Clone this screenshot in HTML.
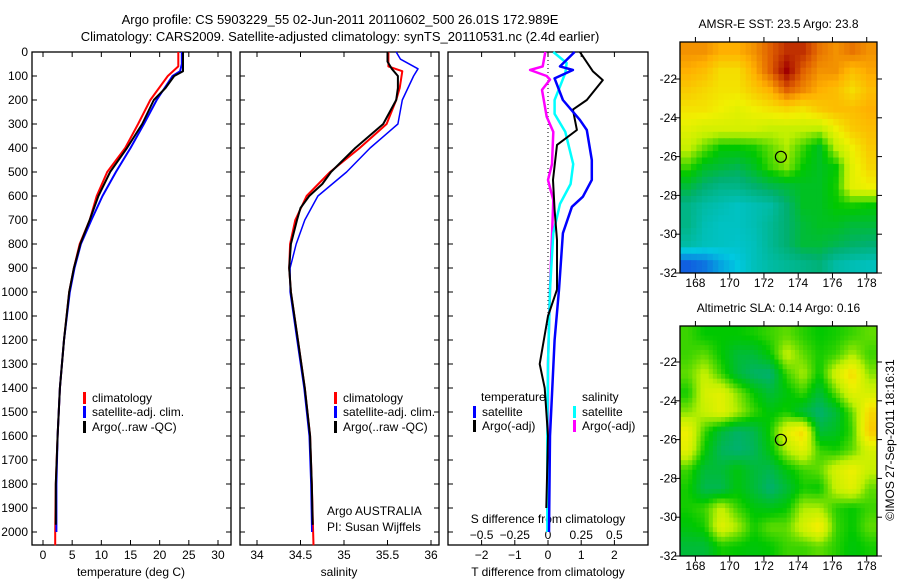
<!DOCTYPE html>
<html><head><meta charset="utf-8"><style>
body{margin:0;background:#fff}
svg{font-family:"Liberation Sans",sans-serif;font-size:12px}
</style></head><body>
<svg id="fig" width="900" height="580" xmlns="http://www.w3.org/2000/svg">
<rect width="900" height="580" fill="#fff"/>
<text x="340" y="24" text-anchor="middle" font-size="13">Argo profile: CS 5903229_55 02-Jun-2011 20110602_500 26.01S 172.989E</text>
<text x="340" y="41" text-anchor="middle" font-size="13">Climatology: CARS2009. Satellite-adjusted climatology: synTS_20110531.nc (2.4d earlier)</text>
<g id="g"></g>
</svg>
<script>
// ---- data ----
const depthTicks=[0,100,200,300,400,500,600,700,800,900,1000,1100,1200,1300,1400,1500,1600,1700,1800,1900,2000];
const tempTicks=[0,5,10,15,20,25,30];
const salTicks=[34,34.5,35,35.5,36];
const tdTicks=[-2,-1,0,1,2];
const sdTicks=[-0.5,-0.25,0,0.25,0.5];
const salTickLabels=["34","34.5","35","35.5","36"];
const sdTickLabels=["\u22120.5","\u22120.25","0","0.25","0.5"];
const tdTickLabels=["\u22122","\u22121","0","1","2"];

const tClimDepth=[0,60,100,200,300,400,500,600,700,800,900,1000,1200,1400,1600,1800,2000,2055];
const tClim=[23.2,23.2,21.4,18.4,16.3,14.1,11.0,9.2,8.0,6.3,5.3,4.5,3.6,2.9,2.5,2.2,2.1,2.1];
const tSatDepth=[0,50,80,100,200,300,400,500,600,700,800,900,1000,1200,1400,1600,1800,2000];
const tSat=[23.8,23.8,23.5,22.2,19.5,17.3,15.0,12.5,10.2,8.3,6.5,5.4,4.6,3.6,2.9,2.5,2.3,2.3];
const tArgoDepth=[0,80,100,150,200,300,400,500,600,700,800,900,1000,1200,1400,1600,1800,1970];
const tArgo=[24.0,24.0,22.5,21.0,19.0,17.0,14.4,11.5,9.5,8.0,6.4,5.3,4.5,3.6,2.9,2.5,2.2,2.2];

const sClimDepth=[0,60,80,150,200,300,400,500,600,700,800,900,1000,1200,1400,1600,1800,2055];
const sClim=[35.51,35.51,35.67,35.64,35.6,35.49,35.18,34.84,34.57,34.44,34.38,34.37,34.39,34.47,34.55,34.61,34.63,34.65];
const sSatDepth=[0,30,70,100,200,300,400,500,600,700,800,900,1000,1200,1400,1600,1800,2000];
const sSat=[35.6,35.65,35.85,35.8,35.67,35.62,35.3,35.03,34.7,34.55,34.45,34.38,34.38,34.46,34.54,34.6,34.62,34.63];
const sArgoDepth=[0,40,70,100,150,200,300,400,500,550,600,650,700,800,900,1000,1200,1400,1600,1800,1970];
const sArgo=[35.5,35.5,35.55,35.62,35.62,35.6,35.45,35.13,34.85,34.75,34.6,34.5,34.46,34.39,34.37,34.39,34.47,34.55,34.61,34.63,34.64];

const dTArgoDepth=[0,80,117,200,240,325,387,533,658,783,990,1100,1300,1400,1600,1900];
const dTArgo=[0.96,1.35,1.65,1.17,0.75,0.87,0.27,0.15,0.2,0.27,0.27,0.0,-0.25,-0.1,0.0,-0.05];
const dTSatDepth=[0,60,75,110,200,283,325,450,533,603,645,755,990,1200,1600,2000];
const dTSat=[0.8,0.36,0.75,0.2,0.45,0.96,1.17,1.32,1.32,1.05,0.72,0.45,0.33,0.2,0.06,0.03];
const dSSatDepth=[0,46,88,200,258,333,467,550,633,755,990,1300,1600,2000];
const dSSat=[0.04,0.14,0.13,0.05,0.05,0.13,0.19,0.17,0.09,0.04,0.015,0.0,-0.005,-0.005];
const dSArgoDepth=[0,60,75,100,115,158,270,333,467,533,617,990,1300,1600,1950];
const dSArgo=[-0.02,-0.04,-0.135,-0.01,0.015,-0.045,-0.01,0.04,0.03,0.0,0.04,0.015,0.0,0.0,0.0];

const sstGrid=[
[0.85,0.85,0.82,0.82,0.85,0.9,0.95,0.95,0.88,0.85,0.88,0.85],
[0.82,0.8,0.75,0.75,0.82,0.9,1.0,0.9,0.85,0.85,0.8,0.83],
[0.78,0.76,0.74,0.74,0.78,0.82,0.9,0.86,0.82,0.8,0.75,0.8],
[0.74,0.74,0.72,0.7,0.72,0.74,0.76,0.74,0.78,0.8,0.8,0.82],
[0.7,0.68,0.68,0.68,0.68,0.66,0.66,0.66,0.65,0.72,0.78,0.8],
[0.66,0.6,0.55,0.55,0.56,0.6,0.64,0.58,0.52,0.65,0.72,0.78],
[0.58,0.52,0.5,0.48,0.52,0.58,0.62,0.55,0.52,0.55,0.7,0.76],
[0.5,0.45,0.42,0.42,0.45,0.48,0.5,0.52,0.52,0.56,0.7,0.72],
[0.42,0.38,0.36,0.34,0.36,0.38,0.45,0.52,0.52,0.55,0.56,0.55],
[0.42,0.36,0.34,0.34,0.36,0.4,0.45,0.5,0.52,0.52,0.5,0.5],
[0.38,0.35,0.34,0.33,0.35,0.4,0.45,0.5,0.5,0.48,0.46,0.45],
[0.15,0.18,0.25,0.3,0.35,0.38,0.4,0.42,0.44,0.38,0.36,0.35]];
const slaGrid=[
[0.58,0.55,0.55,0.55,0.56,0.58,0.6,0.57,0.55,0.56,0.58,0.6],
[0.58,0.6,0.55,0.5,0.5,0.55,0.66,0.6,0.56,0.58,0.64,0.58],
[0.6,0.66,0.58,0.5,0.46,0.45,0.58,0.64,0.55,0.68,0.76,0.62],
[0.56,0.68,0.7,0.62,0.55,0.5,0.54,0.58,0.5,0.6,0.7,0.68],
[0.62,0.66,0.7,0.64,0.58,0.54,0.56,0.5,0.45,0.5,0.6,0.76],
[0.72,0.58,0.5,0.46,0.48,0.56,0.7,0.76,0.5,0.52,0.58,0.78],
[0.7,0.55,0.47,0.45,0.47,0.54,0.64,0.7,0.58,0.56,0.6,0.68],
[0.58,0.5,0.5,0.54,0.5,0.48,0.54,0.58,0.6,0.68,0.72,0.66],
[0.56,0.48,0.48,0.54,0.5,0.45,0.5,0.56,0.55,0.66,0.7,0.6],
[0.56,0.58,0.66,0.58,0.54,0.53,0.55,0.64,0.64,0.57,0.55,0.58],
[0.54,0.56,0.7,0.64,0.56,0.6,0.6,0.68,0.74,0.58,0.55,0.6],
[0.5,0.5,0.56,0.55,0.54,0.55,0.58,0.58,0.6,0.57,0.54,0.56]];
const lonTicks=[168,170,172,174,176,178];
const latTicks=[22,24,26,28,30,32];
const argoLon=[172.989];
const argoLat=[26.01];

// ---- helpers ----
const NS="http://www.w3.org/2000/svg";
const G=document.getElementById('g');
function mk(tag,attrs,parent){const e=document.createElementNS(NS,tag);for(const k in attrs)e.setAttribute(k,attrs[k]);(parent||G).appendChild(e);return e;}
const Y0=52,Y1=545;
const yD=d=>Y0+d*0.24;
const xT=t=>43+t*5.833;
const xS=s=>257+(s-34)*87;
const xDT=t=>548+t*33.2;
const xDS=s=>548+s*132.8;

function panel(x0,x1,name){
  const r=mk('rect',{x:x0,y:Y0,width:x1-x0,height:Y1-Y0,fill:'none',stroke:'#000','stroke-width':1.3});
  
  
  depthTicks.forEach(d=>{
    const y=yD(d);
    mk('line',{x1:x0,x2:x0+5,y1:y,y2:y,stroke:'#000'});
    mk('line',{x1:x1-5,x2:x1,y1:y,y2:y,stroke:'#000'});
  });
}
function xticks(vals,fx,labels,y,name){
  vals.forEach((v,i)=>{
    const x=fx(v);
    mk('line',{x1:x,x2:x,y1:Y1,y2:Y1-5,stroke:'#000'});
    mk('line',{x1:x,x2:x,y1:Y0,y2:Y0+5,stroke:'#000'});
    const t=mk('text',{x:x,y:y,'text-anchor':'middle'});t.textContent=labels[i];
    
    
  });
}
function line(ds,vs,fx,color,w,name){
  const pts=ds.map((d,i)=>fx(vs[i]).toFixed(1)+','+yD(d).toFixed(1)).join(' ');
  const p=mk('polyline',{points:pts,fill:'none',stroke:color,'stroke-width':w,'stroke-linejoin':'round'});
  
  
}
function label(x,y,s,name,anchor){const t=mk('text',{x:x,y:y,'text-anchor':anchor||'start'});t.textContent=s;
  
  return t;}
function legend(x,y,color,s,name){
  const b=mk('rect',{x:x,y:y-10,width:3,height:12,fill:color});
  
  
  label(x+9,y,s,name);
}

depthTicks.forEach(d=>{label(28,yD(d)+4,String(d),'depth-tick-label','end');});

// panel 1
panel(32,231,'temperature-panel');
xticks(tempTicks,xT,tempTicks.map(String),559,'temperature-tick-label');
label(131,576,'temperature (deg C)','temperature-axis-title','middle');
line(tClimDepth,tClim,xT,'#f00',2,'temperature-climatology-line');
line(tSatDepth,tSat,xT,'#00f',2,'temperature-satellite-line');
line(tArgoDepth,tArgo,xT,'#000',2,'temperature-argo-line');
legend(83,402,'#f00','climatology','legend-climatology');
legend(83,416,'#00f','satellite-adj. clim.','legend-satellite-adj');
legend(83,431,'#000','Argo(..raw -QC)','legend-argo');

// panel 2
panel(240,439,'salinity-panel');
xticks(salTicks,xS,salTickLabels,559,'salinity-tick-label');
label(339,576,'salinity','salinity-axis-title','middle');
line(sClimDepth,sClim,xS,'#f00',2,'salinity-climatology-line');
line(sSatDepth,sSat,xS,'#00f',1.5,'salinity-satellite-line');
line(sArgoDepth,sArgo,xS,'#000',2,'salinity-argo-line');
legend(334,402,'#f00','climatology','legend2-climatology');
legend(334,416,'#00f','satellite-adj. clim.','legend2-satellite-adj');
legend(334,431,'#000','Argo(..raw -QC)','legend2-argo');
label(327,515,'Argo AUSTRALIA','argo-australia-label');
label(327,531,'PI: Susan Wijffels','pi-label');

// panel 3
panel(448,648,'difference-panel');
tdTicks.forEach((v,i)=>{const x=xDT(v);mk('line',{x1:x,x2:x,y1:Y1,y2:Y1-5,stroke:'#000'});mk('line',{x1:x,x2:x,y1:Y0,y2:Y0+5,stroke:'#000'});label(x,559,tdTickLabels[i],'t-diff-tick-label','middle');});
sdTicks.forEach((v,i)=>{label(xDS(v),539,sdTickLabels[i],'s-diff-tick-label','middle');});
label(548,523,'S difference from climatology','s-diff-axis-title','middle');
label(548,576,'T difference from climatology','t-diff-axis-title','middle');
mk('line',{x1:548,x2:548,y1:Y0,y2:500,stroke:'#000','stroke-dasharray':'1,3'});
line(dSArgoDepth,dSArgo,xDS,'#f0f',2.5,'s-argo-diff-line');
line(dSSatDepth,dSSat,xDS,'#0ff',2.5,'s-satellite-diff-line');
line(dTArgoDepth,dTArgo,xDT,'#000',2,'t-argo-diff-line');
line(dTSatDepth,dTSat,xDT,'#00f',2.5,'t-satellite-diff-line');
label(481,401,'temperature','legend3-temperature-heading');
legend(473,416,'#00f','satellite','legend3-t-satellite');
legend(473,430,'#000','Argo(-adj)','legend3-t-argo');
label(582,401,'salinity','legend3-salinity-heading');
legend(573,416,'#0ff','satellite','legend3-s-satellite');
legend(573,430,'#f0f','Argo(-adj)','legend3-s-argo');

// maps
const stops=[[0,[0,32,160]],[0.15,[16,96,224]],[0.3,[0,200,224]],[0.45,[0,176,112]],[0.55,[0,200,0]],[0.65,[192,240,0]],[0.72,[240,240,0]],[0.82,[255,176,0]],[0.9,[224,96,0]],[1,[160,0,0]]];
function cmap(v){for(let i=1;i<stops.length;i++){if(v<=stops[i][0]){const a=stops[i-1],b=stops[i],f=(v-a[0])/(b[0]-a[0]);return 'rgb('+a[1].map((c,k)=>Math.round(c+(b[1][k]-c)*f)).join(',')+')';}}return 'rgb(160,0,0)';}
function sample(grid,fr,fc){
  const nr=grid.length,nc=grid[0].length;
  const r=Math.min(Math.max(fr-0.5,0),nr-1),c=Math.min(Math.max(fc-0.5,0),nc-1);
  const r0=Math.floor(r),c0=Math.floor(c),r1=Math.min(r0+1,nr-1),c1=Math.min(c0+1,nc-1);
  const a=r-r0,b=c-c0;
  return grid[r0][c0]*(1-a)*(1-b)+grid[r0][c1]*(1-a)*b+grid[r1][c0]*a*(1-b)+grid[r1][c1]*a*b;
}
const MX0=680,MX1=877,LON0=167.1,LON1=178.6;
const mxLon=l=>MX0+(l-LON0)*(MX1-MX0)/(LON1-LON0);
function map(grid,top,bottom,name,title,up){
  const LAT0=32-(bottom-top)/19.4;
  const myLat=l=>top+(l-LAT0)*19.4;
  const nr=grid.length*up,nc=grid[0].length*up,cw=(MX1-MX0)/nc,ch=(bottom-top)/nr;
  for(let r=0;r<nr;r++)for(let c=0;c<nc;c++){
    const v=sample(grid,(r+0.5)/up,(c+0.5)/up);
    const e=mk('rect',{x:(MX0+c*cw).toFixed(2),y:(top+r*ch).toFixed(2),width:(cw+0.5).toFixed(2),height:(ch+0.5).toFixed(2),fill:cmap(v)});
    
    
  }
  const b=mk('rect',{x:MX0,y:top,width:MX1-MX0,height:bottom-top,fill:'none',stroke:'#000','stroke-width':1.3});
  
  
  lonTicks.forEach(l=>{const x=mxLon(l);mk('line',{x1:x,x2:x,y1:bottom,y2:bottom+5,stroke:'#000'});mk('line',{x1:x,x2:x,y1:top,y2:top-5,stroke:'#000'});label(x,bottom+14,String(l),name+'-lon-label','middle');});
  latTicks.forEach(l=>{const y=myLat(l);mk('line',{x1:MX0-5,x2:MX0,y1:y,y2:y,stroke:'#000'});mk('line',{x1:MX1,x2:MX1+5,y1:y,y2:y,stroke:'#000'});label(677,y+4,'-'+l,name+'-lat-label','end');});
  argoLon.forEach((lo,i)=>{const c=mk('circle',{cx:mxLon(lo),cy:myLat(argoLat[i]),r:5.5,fill:'none',stroke:'#000','stroke-width':1.2});
    
    });
  label((MX0+MX1)/2,top-14,title,name+'-title','middle');
}
map(sstGrid,42,273,'sst-map','AMSR-E SST: 23.5 Argo: 23.8',3);
map(slaGrid,326,556,'sla-map','Altimetric SLA: 0.14 Argo: 0.16',4);
const ts=mk('text',{x:0,y:0,'text-anchor':'middle',transform:'translate(894,440) rotate(-90)'});
ts.textContent='\u00a9IMOS 27-Sep-2011 18:16:31';


</script>
</body></html>
